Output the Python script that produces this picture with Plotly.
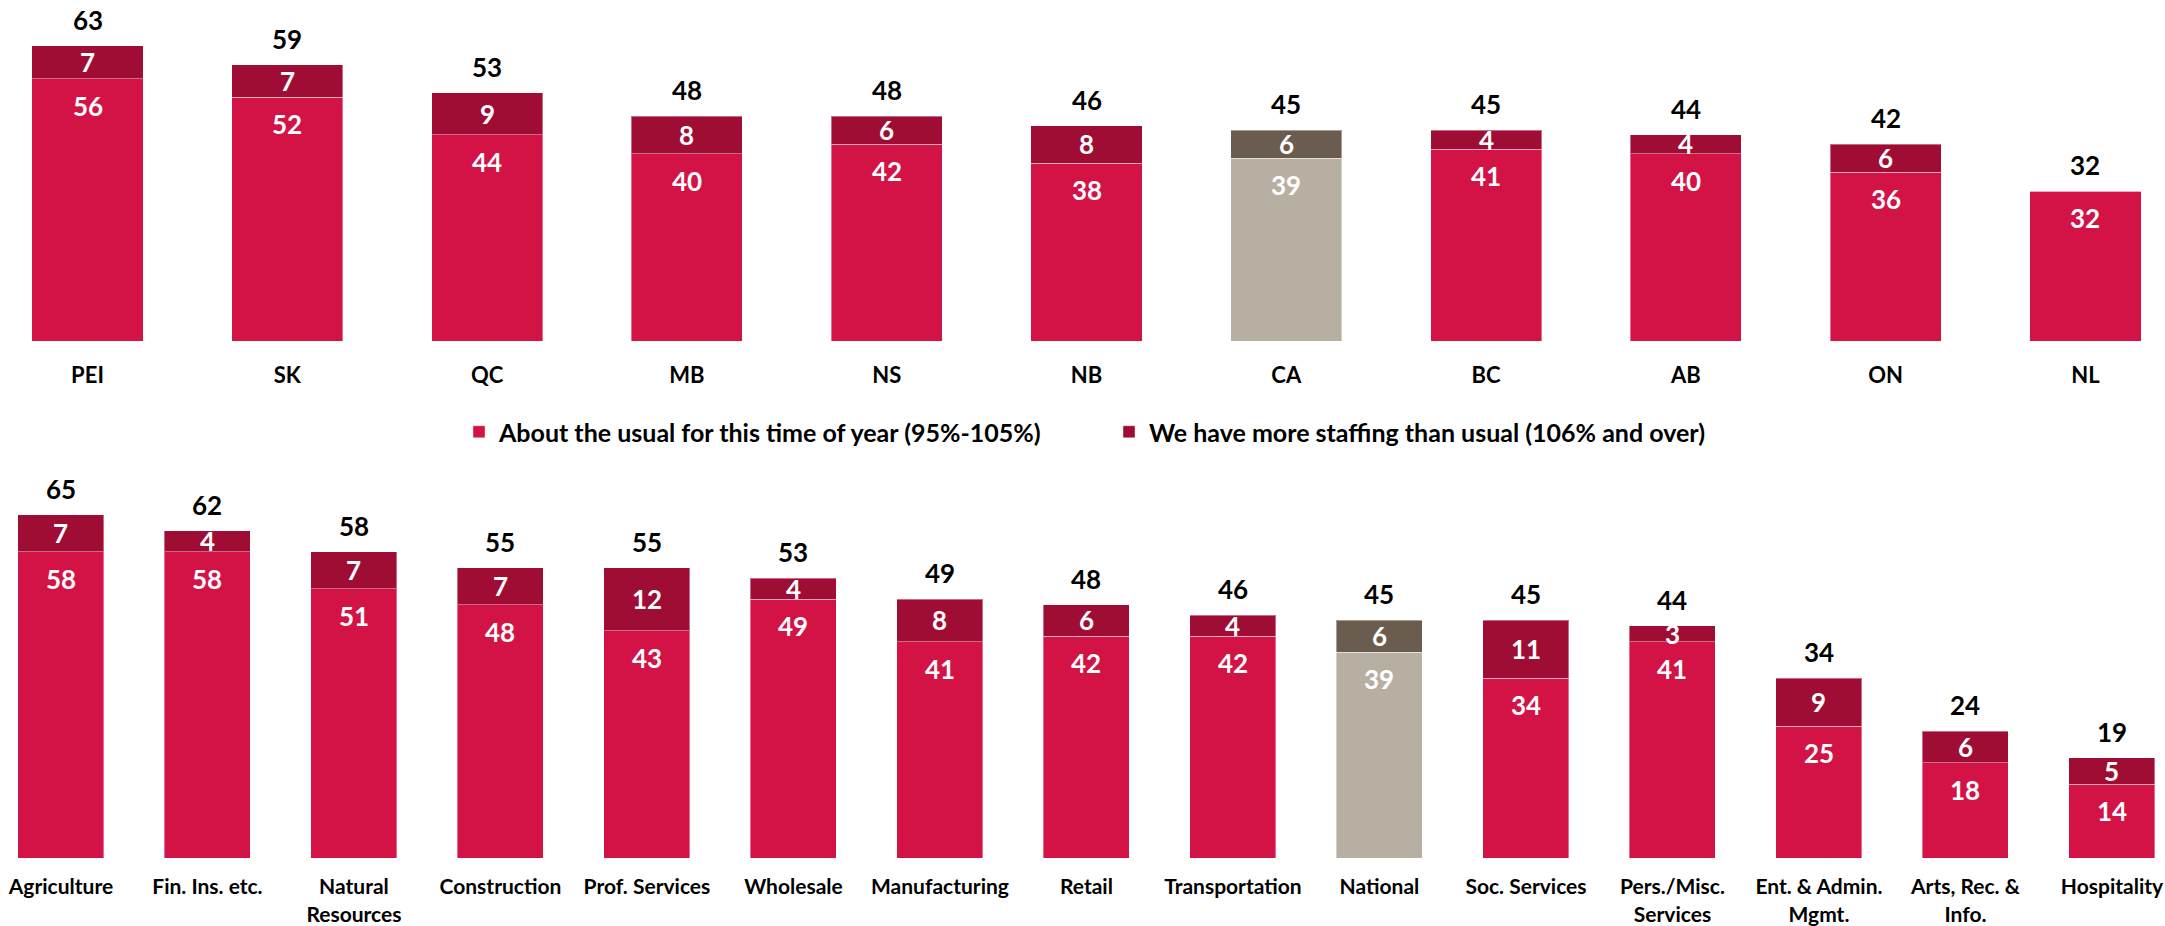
import plotly.graph_objects as go

# ---- data: provinces (top) ----
prov_labels = ["PEI", "SK", "QC", "MB", "NS", "NB", "CA", "BC", "AB", "ON", "NL"]
prov_usual = [56, 52, 44, 40, 42, 38, 39, 41, 40, 36, 32]
prov_more = [7, 7, 9, 8, 6, 8, 6, 4, 4, 6, 0]
prov_total = [63, 59, 53, 48, 48, 46, 45, 45, 44, 42, 32]

# ---- data: sectors (bottom) ----
sect_labels = ["Agriculture", "Fin. Ins. etc.", "Natural<br>Resources", "Construction",
               "Prof. Services", "Wholesale", "Manufacturing", "Retail", "Transportation",
               "National", "Soc. Services", "Pers./Misc.<br>Services", "Ent. &amp; Admin.<br>Mgmt.",
               "Arts, Rec. &amp;<br>Info.", "Hospitality"]
sect_usual = [58, 58, 51, 48, 43, 49, 41, 42, 42, 39, 34, 41, 25, 18, 14]
sect_more = [7, 4, 7, 7, 12, 4, 8, 6, 4, 6, 11, 3, 9, 6, 5]
sect_total = [65, 62, 58, 55, 55, 53, 49, 48, 46, 45, 45, 44, 34, 24, 19]

series_names = ["About the usual for this time of year (95%-105%)",
                "We have more staffing than usual (106% and over)"]

RED = "#D31245"
DARK = "#A00D34"
GREY = "#B8AFA3"
BROWN = "#6A5C4E"
HIGHLIGHT = {"CA", "National"}

FONT = "Lato"
NUM_FS = 26
TOP_TICK_FS = 22
BOT_TICK_FS = 21
LEG_FS = 25

W, H = 2165, 926


def colors(labels, normal, special):
    return [special if l in HIGHLIGHT else normal for l in labels]


fig = go.Figure()

panels = [
    dict(labels=prov_labels, usual=prov_usual, more=prov_more, total=prov_total,
         xa="x", ya="y", width=0.556, legend=True),
    dict(labels=sect_labels, usual=sect_usual, more=sect_more, total=sect_total,
         xa="x2", ya="y2", width=0.587, legend=False),
]

annotations = []
for p in panels:
    labels = p["labels"]
    fig.add_trace(go.Bar(
        x=labels, y=p["usual"], name=series_names[0], xaxis=p["xa"], yaxis=p["ya"],
        width=p["width"], marker=dict(color=colors(labels, RED, GREY),
                                      line=dict(color="rgba(255,255,255,0.4)", width=1)),
        showlegend=p["legend"], legendgroup="a", hoverinfo="skip"))
    fig.add_trace(go.Bar(
        x=labels, y=p["more"], name=series_names[1], xaxis=p["xa"], yaxis=p["ya"],
        width=p["width"], marker=dict(color=colors(labels, DARK, BROWN),
                                      line=dict(color="rgba(255,255,255,0.4)", width=1)),
        showlegend=p["legend"], legendgroup="b", hoverinfo="skip"))
    for lab, u, m, t in zip(labels, p["usual"], p["more"], p["total"]):
        annotations.append(dict(x=lab, y=t, xref=p["xa"], yref=p["ya"], text=str(t),
                                showarrow=False, yshift=26,
                                font=dict(family=FONT, size=NUM_FS, color="black", weight="bold")))
        annotations.append(dict(x=lab, y=u, xref=p["xa"], yref=p["ya"], text=str(u),
                                showarrow=False, yshift=-27,
                                font=dict(family=FONT, size=NUM_FS, color="white", weight="bold")))
        if m:
            annotations.append(dict(x=lab, y=u + m / 2, xref=p["xa"], yref=p["ya"], text=str(m),
                                    showarrow=False,
                                    font=dict(family=FONT, size=NUM_FS, color="white", weight="bold")))

# positions in screen px
top_base = 341
top_ppu = 4.683
bot_base = 858
bot_top = 460
bot_ppu = 5.28

axis_common = dict(showgrid=False, zeroline=False, showline=False, type="category",
                   ticks="outside", tickcolor="rgba(0,0,0,0)")

fig.update_layout(
    width=W, height=H,
    margin=dict(l=0, r=0, t=0, b=0),
    paper_bgcolor="white", plot_bgcolor="white",
    barmode="stack",
    font=dict(family=FONT, size=BOT_TICK_FS, color="black"),
    annotations=annotations,
    xaxis=dict(axis_common, anchor="y", domain=[0, 1], range=[-0.438, 10.398], ticklen=15,
               tickfont=dict(family=FONT, size=TOP_TICK_FS, color="black", weight="bold")),
    yaxis=dict(anchor="x", domain=[1 - top_base / H, 1], range=[0, top_base / top_ppu],
               visible=False),
    xaxis2=dict(axis_common, anchor="y2", domain=[0, 1], range=[-0.416, 14.362], ticklen=10,
                tickfont=dict(family=FONT, size=BOT_TICK_FS, color="black", weight="bold")),
    yaxis2=dict(anchor="x2", domain=[1 - bot_base / H, 1 - bot_top / H],
                range=[0, (bot_base - bot_top) / bot_ppu], visible=False),
    legend=dict(orientation="h", x=459 / W, xanchor="left", y=1 - 432 / H,
                yanchor="middle", entrywidth=605,
                font=dict(family=FONT, size=LEG_FS, color="black", weight="bold"),
                bgcolor="rgba(0,0,0,0)", traceorder="normal", itemclick=False),
)

fig.write_html("out.html", config={"displayModeBar": False},
               post_script="document.body.style.margin='0';")
